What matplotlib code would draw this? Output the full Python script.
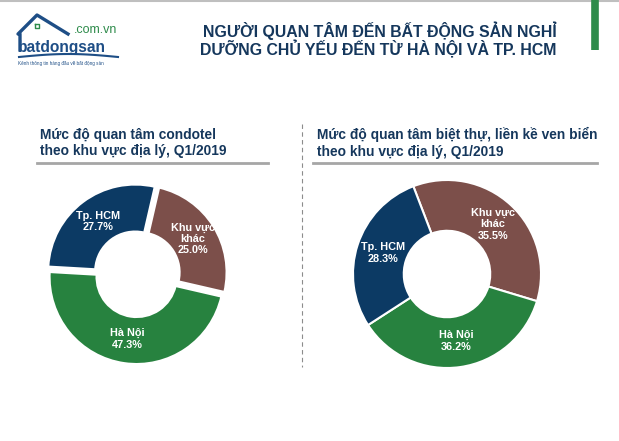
import matplotlib
matplotlib.use("Agg")
import matplotlib.pyplot as plt
import numpy as np
from matplotlib.lines import Line2D

plt.rcParams["font.family"] = ["Liberation Sans", "DejaVu Sans"]

W, H = 619, 441

title_lines = ["NGƯỜI QUAN TÂM ĐẾN BẤT ĐỘNG SẢN NGHỈ",
               "DƯỠNG CHỦ YẾU ĐẾN TỪ HÀ NỘI VÀ TP. HCM"]

left_title = "Mức độ quan tâm condotel\ntheo khu vực địa lý, Q1/2019"
right_title = "Mức độ quan tâm biệt thự, liền kề ven biển\ntheo khu vực địa lý, Q1/2019"

categories = ["Khu vực\nkhác", "Hà Nội", "Tp. HCM"]
condotel = [25.0, 47.3, 27.7]
villa = [35.5, 36.2, 28.3]

colors = ["#7C4F4A", "#27823F", "#0C3A64"]
navy = "#15375C"


def fx(x):
    return x / W


def fy(y):
    return 1 - y / H


def donut(cx, cy, r, values, start, explode, edge):
    half = 1.15 * r
    ax = fig.add_axes([fx(cx - half), fy(cy + half), 2 * half / W, 2 * half / H])
    wedges, _ = ax.pie(values, colors=colors, startangle=start, counterclock=False,
                       explode=[explode] * len(values),
                       wedgeprops=dict(width=0.54, edgecolor="white", linewidth=edge))
    ax.set_xlim(-1.15, 1.15)
    ax.set_ylim(-1.15, 1.15)
    ax.set_aspect("equal")
    ax.axis("off")
    for w, name, v in zip(wedges, categories, values):
        ang = np.deg2rad((w.theta1 + w.theta2) / 2)
        x = w.center[0] + 0.72 * np.cos(ang)
        y = w.center[1] + 0.72 * np.sin(ang)
        ax.text(x, y, f"{name}\n{v:.1f}%", ha="center", va="center", color="white",
                fontsize=7.8, fontweight="bold", linespacing=1.15)
    return ax


fig = plt.figure(figsize=(W / 100, H / 100), dpi=100)

# top border and green marker
fig.add_artist(Line2D([0, 1], [fy(1), fy(1)], color="#BFBFBF", lw=1.5))
fig.add_artist(Line2D([fx(594.5), fx(594.5)], [fy(0), fy(50)], color="#2E8B4B", lw=5.5,
                      solid_capstyle="butt"))

# logo
house_x = [20, 20, 18, 37, 68]
house_y = [50, 34, 34, 15, 34]
fig.add_artist(Line2D([fx(v) for v in house_x], [fy(v) for v in house_y],
                      color="#1E4E86", lw=2.4))
fig.add_artist(Line2D([fx(35), fx(39), fx(39), fx(35), fx(35)],
                      [fy(24), fy(24), fy(28), fy(28), fy(24)], color="#2E8B4B", lw=1))
sx = np.linspace(19, 118, 30)
sy = 57 - 3 * np.sin(np.linspace(0, np.pi, 30))
fig.add_artist(Line2D(fx(sx), fy(sy), color="#1E4E86", lw=1.5))
fig.text(fx(18), fy(52), "batdongsan", color="#1E4E86", fontsize=11.2, fontweight="bold",
         ha="left", va="baseline")
fig.text(fx(117), fy(33), ".com.vn", color="#2E8B4B", fontsize=9,
         ha="right", va="baseline")
fig.text(fx(18), fy(65), "Kênh thông tin hàng đầu về bất động sản", color="#1E4E86",
         fontsize=3.3, ha="left", va="baseline")

# main title
fig.text(fx(557), fy(31), title_lines[0], color=navy, fontsize=11.4, fontweight="bold",
         ha="right", va="center")
fig.text(fx(557), fy(49), title_lines[1], color=navy, fontsize=11.4, fontweight="bold",
         ha="right", va="center")

# panel headings
fig.text(fx(40), fy(143), left_title, color=navy, fontsize=9.9, fontweight="bold",
         ha="left", va="center", linespacing=1.25)
fig.text(fx(317), fy(143), right_title, color=navy, fontsize=9.9, fontweight="bold",
         ha="left", va="center", linespacing=1.25)
fig.add_artist(Line2D([fx(37), fx(268)], [fy(163), fy(163)], color="#A6A6A6", lw=2))
fig.add_artist(Line2D([fx(313), fx(597)], [fy(163), fy(163)], color="#A6A6A6", lw=2))

# divider
fig.add_artist(Line2D([fx(302), fx(302)], [fy(124), fy(367)], color="#8C8C8C", lw=0.8,
                      linestyle=(0, (4, 3))))

donut(137, 274, 87, condotel, 77, 0.035, 1.5)
donut(447, 274, 94, villa, 111, 0.0, 1.5)

fig.savefig("out.png", dpi=100)
